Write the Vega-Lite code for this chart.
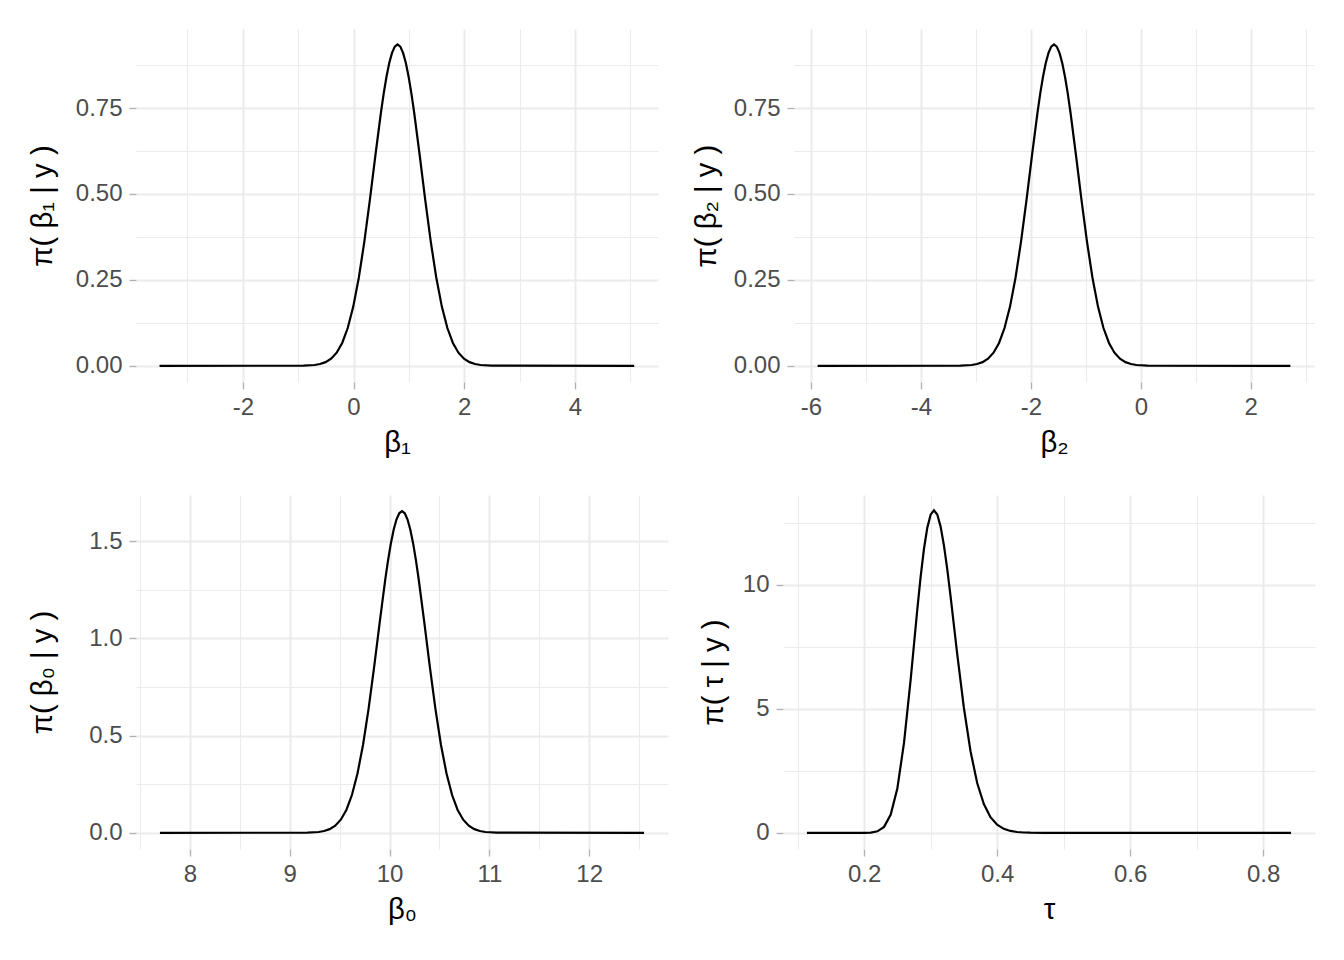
{
  "$schema": "https://vega.github.io/schema/vega-lite/v6.json",
  "background": "white",
  "padding": {"left": 28, "top": 29, "right": 5, "bottom": 5},
  "datasets": {
    "b1": [
      {"v": -3.505, "d": 0}, {"v": -0.905, "d": 0.0005}, {"v": -0.705, "d": 0.0024}, {"v": -0.605, "d": 0.0053},
      {"v": -0.505, "d": 0.0107}, {"v": -0.405, "d": 0.0208}, {"v": -0.305, "d": 0.0382}, {"v": -0.205, "d": 0.0666},
      {"v": -0.105, "d": 0.11}, {"v": -0.005, "d": 0.1723}, {"v": 0.095, "d": 0.2562}, {"v": 0.195, "d": 0.3612},
      {"v": 0.295, "d": 0.483}, {"v": 0.395, "d": 0.6127}, {"v": 0.495, "d": 0.7371}, {"v": 0.545, "d": 0.7927},
      {"v": 0.595, "d": 0.8412}, {"v": 0.645, "d": 0.881}, {"v": 0.695, "d": 0.9106}, {"v": 0.745, "d": 0.9288},
      {"v": 0.795, "d": 0.935}, {"v": 0.845, "d": 0.9288}, {"v": 0.895, "d": 0.9106}, {"v": 0.945, "d": 0.881},
      {"v": 0.995, "d": 0.8412}, {"v": 1.045, "d": 0.7927}, {"v": 1.095, "d": 0.7371}, {"v": 1.195, "d": 0.6127},
      {"v": 1.295, "d": 0.483}, {"v": 1.395, "d": 0.3612}, {"v": 1.495, "d": 0.2562}, {"v": 1.595, "d": 0.1723},
      {"v": 1.695, "d": 0.11}, {"v": 1.795, "d": 0.0666}, {"v": 1.895, "d": 0.0382}, {"v": 1.995, "d": 0.0208},
      {"v": 2.095, "d": 0.0107}, {"v": 2.195, "d": 0.0053}, {"v": 2.295, "d": 0.0024}, {"v": 2.495, "d": 0.0005},
      {"v": 5.07, "d": 0}
    ],
    "b2": [
      {"v": -5.88, "d": 0}, {"v": -3.28, "d": 0.0005}, {"v": -3.08, "d": 0.0024}, {"v": -2.98, "d": 0.0053},
      {"v": -2.88, "d": 0.0107}, {"v": -2.78, "d": 0.0208}, {"v": -2.68, "d": 0.0382}, {"v": -2.58, "d": 0.0666},
      {"v": -2.48, "d": 0.11}, {"v": -2.38, "d": 0.1723}, {"v": -2.28, "d": 0.2562}, {"v": -2.18, "d": 0.3612},
      {"v": -2.08, "d": 0.483}, {"v": -1.98, "d": 0.6127}, {"v": -1.88, "d": 0.7371}, {"v": -1.83, "d": 0.7927},
      {"v": -1.78, "d": 0.8412}, {"v": -1.73, "d": 0.881}, {"v": -1.68, "d": 0.9106}, {"v": -1.63, "d": 0.9288},
      {"v": -1.58, "d": 0.935}, {"v": -1.53, "d": 0.9288}, {"v": -1.48, "d": 0.9106}, {"v": -1.43, "d": 0.881},
      {"v": -1.38, "d": 0.8412}, {"v": -1.33, "d": 0.7927}, {"v": -1.28, "d": 0.7371}, {"v": -1.18, "d": 0.6127},
      {"v": -1.08, "d": 0.483}, {"v": -0.98, "d": 0.3612}, {"v": -0.88, "d": 0.2562}, {"v": -0.78, "d": 0.1723},
      {"v": -0.68, "d": 0.11}, {"v": -0.58, "d": 0.0666}, {"v": -0.48, "d": 0.0382}, {"v": -0.38, "d": 0.0208},
      {"v": -0.28, "d": 0.0107}, {"v": -0.18, "d": 0.0053}, {"v": -0.08, "d": 0.0024}, {"v": 0.12, "d": 0.0005},
      {"v": 2.72, "d": 0}
    ],
    "b0": [
      {"v": 7.7, "d": 0}, {"v": 9.1773, "d": 0.0008}, {"v": 9.2888, "d": 0.0043}, {"v": 9.3445, "d": 0.0093},
      {"v": 9.4003, "d": 0.019}, {"v": 9.456, "d": 0.0368}, {"v": 9.5118, "d": 0.0676}, {"v": 9.5675, "d": 0.1177},
      {"v": 9.6233, "d": 0.1945}, {"v": 9.679, "d": 0.3049}, {"v": 9.7348, "d": 0.4532}, {"v": 9.7905, "d": 0.6389},
      {"v": 9.8463, "d": 0.8544}, {"v": 9.902, "d": 1.0838}, {"v": 9.9578, "d": 1.304}, {"v": 9.9856, "d": 1.4022},
      {"v": 10.0135, "d": 1.4881}, {"v": 10.0414, "d": 1.5585}, {"v": 10.0693, "d": 1.6109}, {"v": 10.0971, "d": 1.6431},
      {"v": 10.125, "d": 1.654}, {"v": 10.1529, "d": 1.6431}, {"v": 10.1807, "d": 1.6109}, {"v": 10.2086, "d": 1.5585},
      {"v": 10.2365, "d": 1.4881}, {"v": 10.2644, "d": 1.4022}, {"v": 10.2922, "d": 1.304}, {"v": 10.348, "d": 1.0838},
      {"v": 10.4037, "d": 0.8544}, {"v": 10.4595, "d": 0.6389}, {"v": 10.5152, "d": 0.4532}, {"v": 10.571, "d": 0.3049},
      {"v": 10.6267, "d": 0.1945}, {"v": 10.6825, "d": 0.1177}, {"v": 10.7382, "d": 0.0676}, {"v": 10.794, "d": 0.0368},
      {"v": 10.8497, "d": 0.019}, {"v": 10.9055, "d": 0.0093}, {"v": 10.9612, "d": 0.0043}, {"v": 11.0727, "d": 0.0008},
      {"v": 12.55, "d": 0}
    ],
    "tau": [
      {"v": 0.114, "d": 0}, {"v": 0.18, "d": 0}, {"v": 0.19, "d": 0.0002}, {"v": 0.2, "d": 0.0018},
      {"v": 0.21, "d": 0.0123}, {"v": 0.22, "d": 0.0627}, {"v": 0.23, "d": 0.2425}, {"v": 0.24, "d": 0.7362},
      {"v": 0.25, "d": 1.8018}, {"v": 0.26, "d": 3.6404}, {"v": 0.27, "d": 6.192}, {"v": 0.28, "d": 9.028},
      {"v": 0.285, "d": 10.34}, {"v": 0.29, "d": 11.461}, {"v": 0.295, "d": 12.311}, {"v": 0.3, "d": 12.838},
      {"v": 0.305, "d": 13.015}, {"v": 0.31, "d": 12.844}, {"v": 0.315, "d": 12.355}, {"v": 0.32, "d": 11.598},
      {"v": 0.325, "d": 10.638}, {"v": 0.33, "d": 9.543}, {"v": 0.34, "d": 7.2145}, {"v": 0.35, "d": 5.0487},
      {"v": 0.36, "d": 3.2932}, {"v": 0.37, "d": 2.0136}, {"v": 0.38, "d": 1.1606}, {"v": 0.39, "d": 0.634},
      {"v": 0.4, "d": 0.3296}, {"v": 0.41, "d": 0.1637}, {"v": 0.42, "d": 0.0779}, {"v": 0.43, "d": 0.0357},
      {"v": 0.44, "d": 0.0158}, {"v": 0.45, "d": 0.0068}, {"v": 0.47, "d": 0.0011}, {"v": 0.5, "d": 0},
      {"v": 0.842, "d": 0}
    ]
  },
  "spacing": 37,
  "bounds": "full",
  "vconcat": [
    {
      "spacing": 136,
      "bounds": "flush",
      "hconcat": [
        {
          "width": 522, "height": 353,
          "data": {"name": "b1"},
          "mark": {"type": "line", "color": "black", "strokeWidth": 2.2},
          "encoding": {
            "x": {"field": "v", "type": "quantitative",
              "scale": {"domain": [-3.93, 5.5], "nice": false, "zero": false},
              "axis": {"title": "β₁", "values": [-3, -2, -1, 0, 1, 2, 3, 4, 5],
                "labelExpr": "datum.value % 2 === 0 ? '' + datum.value : ''",
                "gridWidth": {"condition": {"test": "datum.value % 2 === 0", "value": 2}, "value": 1},
                "tickOpacity": {"condition": {"test": "datum.value % 2 === 0", "value": 1}, "value": 0}}},
            "y": {"field": "d", "type": "quantitative",
              "scale": {"domain": [-0.047, 0.98], "nice": false, "zero": false},
              "axis": {"title": "π( β₁ | y )", "titlePadding": 18,
                "values": [0, 0.125, 0.25, 0.375, 0.5, 0.625, 0.75, 0.875],
                "labelExpr": "abs(datum.value*4 - round(datum.value*4)) < 1e-6 ? format(datum.value, '.2f') : ''",
                "gridWidth": {"condition": {"test": "abs(datum.value*4 - round(datum.value*4)) < 1e-6", "value": 2}, "value": 1},
                "tickOpacity": {"condition": {"test": "abs(datum.value*4 - round(datum.value*4)) < 1e-6", "value": 1}, "value": 0}}}
          }
        },
        {
          "width": 520, "height": 353,
          "data": {"name": "b2"},
          "mark": {"type": "line", "color": "black", "strokeWidth": 2.2},
          "encoding": {
            "x": {"field": "v", "type": "quantitative",
              "scale": {"domain": [-6.31, 3.15], "nice": false, "zero": false},
              "axis": {"title": "β₂", "values": [-6, -5, -4, -3, -2, -1, 0, 1, 2, 3],
                "labelExpr": "datum.value % 2 === 0 ? '' + datum.value : ''",
                "gridWidth": {"condition": {"test": "datum.value % 2 === 0", "value": 2}, "value": 1},
                "tickOpacity": {"condition": {"test": "datum.value % 2 === 0", "value": 1}, "value": 0}}},
            "y": {"field": "d", "type": "quantitative",
              "scale": {"domain": [-0.047, 0.98], "nice": false, "zero": false},
              "axis": {"title": "π( β₂ | y )", "titlePadding": 12,
                "values": [0, 0.125, 0.25, 0.375, 0.5, 0.625, 0.75, 0.875],
                "labelExpr": "abs(datum.value*4 - round(datum.value*4)) < 1e-6 ? format(datum.value, '.2f') : ''",
                "gridWidth": {"condition": {"test": "abs(datum.value*4 - round(datum.value*4)) < 1e-6", "value": 2}, "value": 1},
                "tickOpacity": {"condition": {"test": "abs(datum.value*4 - round(datum.value*4)) < 1e-6", "value": 1}, "value": 0}}}
          }
        }
      ]
    },
    {
      "spacing": 115,
      "bounds": "flush",
      "hconcat": [
        {
          "width": 532, "height": 354,
          "data": {"name": "b0"},
          "mark": {"type": "line", "color": "black", "strokeWidth": 2.2},
          "encoding": {
            "x": {"field": "v", "type": "quantitative",
              "scale": {"domain": [7.46, 12.79], "nice": false, "zero": false},
              "axis": {"title": "β₀", "values": [7.5, 8, 8.5, 9, 9.5, 10, 10.5, 11, 11.5, 12, 12.5],
                "labelExpr": "abs(datum.value - round(datum.value)) < 1e-6 ? '' + datum.value : ''",
                "gridWidth": {"condition": {"test": "abs(datum.value - round(datum.value)) < 1e-6", "value": 2}, "value": 1},
                "tickOpacity": {"condition": {"test": "abs(datum.value - round(datum.value)) < 1e-6", "value": 1}, "value": 0}}},
            "y": {"field": "d", "type": "quantitative",
              "scale": {"domain": [-0.083, 1.737], "nice": false, "zero": false},
              "axis": {"title": "π( β₀ | y )", "titlePadding": 31,
                "values": [0, 0.25, 0.5, 0.75, 1, 1.25, 1.5],
                "labelExpr": "abs(datum.value*2 - round(datum.value*2)) < 1e-6 ? format(datum.value, '.1f') : ''",
                "gridWidth": {"condition": {"test": "abs(datum.value*2 - round(datum.value*2)) < 1e-6", "value": 2}, "value": 1},
                "tickOpacity": {"condition": {"test": "abs(datum.value*2 - round(datum.value*2)) < 1e-6", "value": 1}, "value": 0}}}
          }
        },
        {
          "width": 532, "height": 354,
          "data": {"name": "tau"},
          "mark": {"type": "line", "color": "black", "strokeWidth": 2.2},
          "encoding": {
            "x": {"field": "v", "type": "quantitative",
              "scale": {"domain": [0.078, 0.878], "nice": false, "zero": false},
              "axis": {"title": "τ", "values": [0.1, 0.2, 0.3, 0.4, 0.5, 0.6, 0.7, 0.8],
                "labelExpr": "abs(datum.value*5 - round(datum.value*5)) < 1e-6 ? format(datum.value, '.1f') : ''",
                "gridWidth": {"condition": {"test": "abs(datum.value*5 - round(datum.value*5)) < 1e-6", "value": 2}, "value": 1},
                "tickOpacity": {"condition": {"test": "abs(datum.value*5 - round(datum.value*5)) < 1e-6", "value": 1}, "value": 0}}},
            "y": {"field": "d", "type": "quantitative",
              "scale": {"domain": [-0.65, 13.63], "nice": false, "zero": false},
              "axis": {"title": "π( τ | y )", "titlePadding": 14,
                "values": [0, 2.5, 5, 7.5, 10, 12.5],
                "labelExpr": "datum.value % 5 === 0 ? '' + datum.value : ''",
                "gridWidth": {"condition": {"test": "datum.value % 5 === 0", "value": 2}, "value": 1},
                "tickOpacity": {"condition": {"test": "datum.value % 5 === 0", "value": 1}, "value": 0}}}
          }
        }
      ]
    }
  ],
  "config": {
    "view": {"stroke": null},
    "axis": {
      "domain": false,
      "tickColor": "#b3b3b3", "tickWidth": 1.4, "tickSize": 7,
      "labelColor": "#4d4d4d", "labelFontSize": 24, "labelFont": "Liberation Sans",
      "titleFont": "Liberation Sans", "titleFontSize": 29.3, "titleFontWeight": "normal", "titleColor": "black",
      "gridColor": "#ebebeb", "labelOverlap": false, "labelFlush": false, "labelBound": false
    },
    "axisX": {"labelPadding": 6, "titlePadding": 9},
    "axisY": {"labelPadding": 7}
  }
}
